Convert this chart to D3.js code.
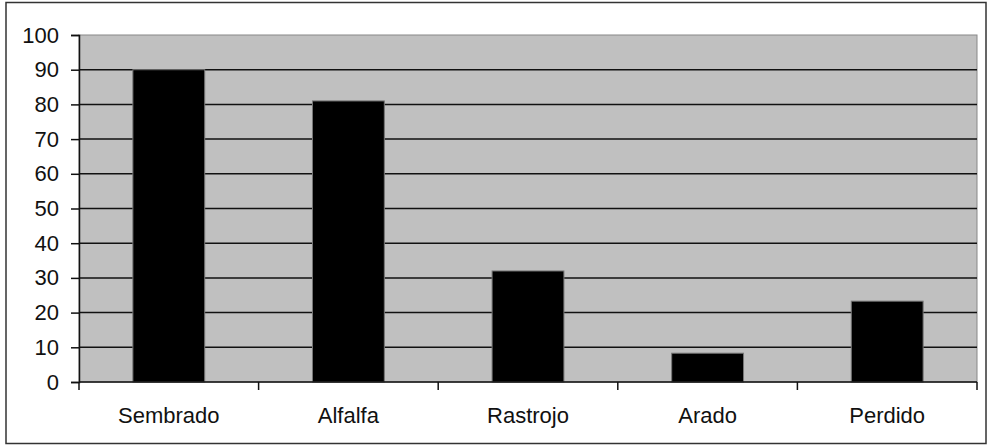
<!DOCTYPE html>
<html>
<head>
<meta charset="utf-8">
<script src="https://cdn.jsdelivr.net/npm/d3@7"></script>
<style>
  body { margin: 0; background: #fff; }
  text { font-family: "Liberation Sans", Arial, sans-serif; }
</style>
</head>
<body>
<div id="chart"></div>
<script>
var categories = ["Sembrado", "Alfalfa", "Rastrojo", "Arado", "Perdido"];
var values = [90, 81, 32, 8.3, 23.3];
var yTicks = [0, 10, 20, 30, 40, 50, 60, 70, 80, 90, 100];

var width = 987,
    height = 445;

var margin = {top: 35, right: 10, bottom: 63, left: 79};

var svg = d3.select("#chart")
  .append("svg")
    .attr("width", width)
    .attr("height", height);

// outer frame
svg.append("rect")
  .attr("x", 6).attr("y", 2.5)
  .attr("width", 980).attr("height", 441)
  .attr("fill", "white")
  .attr("stroke", "#333")
  .attr("stroke-width", 1.5);

var x = d3.scaleBand()
  .domain(categories)
  .range([margin.left, width - margin.right])
  .paddingInner(0.6)
  .paddingOuter(0.3);

var y = d3.scaleLinear()
  .domain([0, 100])
  .range([height - margin.bottom, margin.top]);

var plotW = width - margin.right - margin.left;

// plot background
svg.append("rect")
  .attr("x", margin.left).attr("y", y(100))
  .attr("width", plotW).attr("height", y(0) - y(100))
  .attr("fill", "#c0c0c0")
  .attr("stroke", "#888")
  .attr("stroke-width", 1);

// gridlines
svg.selectAll(".grid")
  .data(yTicks.filter(function(d) { return d > 0 && d < 100; }))
  .enter()
  .append("line")
    .attr("x1", margin.left).attr("x2", width - margin.right)
    .attr("y1", function(d) { return y(d); })
    .attr("y2", function(d) { return y(d); })
    .attr("stroke", "#111")
    .attr("stroke-width", 1.5);

// bars
svg.selectAll(".bar")
  .data(values)
  .enter()
  .append("rect")
    .attr("x", function(d, i) { return x(categories[i]); })
    .attr("y", function(d) { return y(d); })
    .attr("width", x.bandwidth())
    .attr("height", function(d) { return y(0) - y(d); })
    .attr("fill", "black")
    .attr("stroke", "#777")
    .attr("stroke-width", 1);

// y axis
var yAxis = svg.append("g")
  .attr("transform", "translate(" + margin.left + ",0)")
  .call(d3.axisLeft(y).tickValues(yTicks).tickSize(8).tickPadding(12));
yAxis.selectAll("text")
  .style("font-size", "22px")
  .style("font-family", "'Liberation Sans', Arial, sans-serif")
  .attr("fill", "#111");
yAxis.select(".domain").attr("stroke", "#111").attr("stroke-width", 1.5);
yAxis.selectAll(".tick line").attr("stroke", "#111").attr("stroke-width", 1.5);

// x axis with ticks on category boundaries
var step = plotW / categories.length;
var bounds = d3.range(categories.length + 1).map(function(i) { return margin.left + i * step; });

svg.append("line")
  .attr("x1", margin.left).attr("x2", width - margin.right)
  .attr("y1", y(0)).attr("y2", y(0))
  .attr("stroke", "#111").attr("stroke-width", 1.5);

svg.selectAll(".xtick")
  .data(bounds)
  .enter()
  .append("line")
    .attr("x1", function(d) { return d; }).attr("x2", function(d) { return d; })
    .attr("y1", y(0)).attr("y2", y(0) + 8)
    .attr("stroke", "#111").attr("stroke-width", 1.5);

svg.selectAll(".xlabel")
  .data(categories)
  .enter()
  .append("text")
    .attr("x", function(d) { return x(d) + x.bandwidth() / 2; })
    .attr("y", y(0) + 41)
    .attr("text-anchor", "middle")
    .style("font-size", "22px")
    .attr("fill", "#111")
    .text(function(d) { return d; });
</script>
</body>
</html>
